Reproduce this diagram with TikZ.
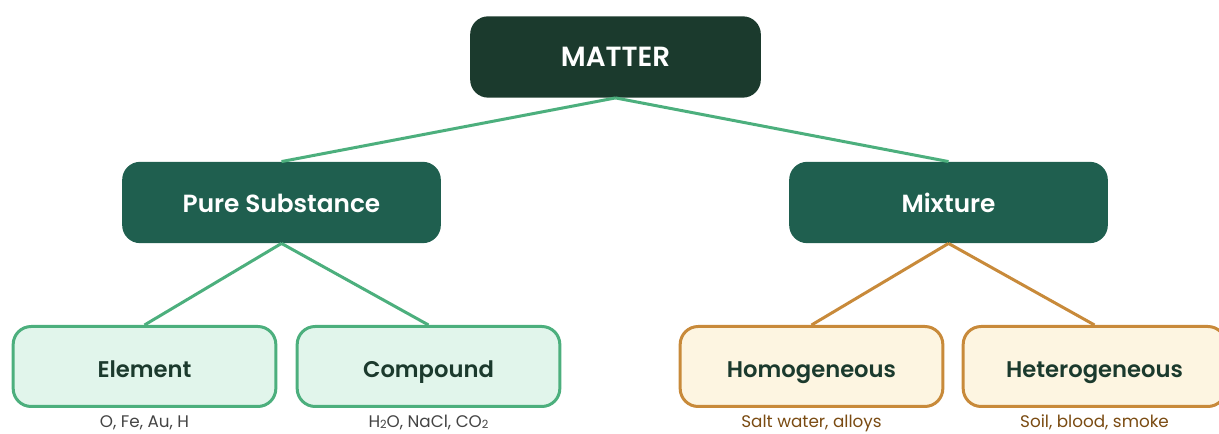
\documentclass[tikz,border=0pt]{standalone}
\usepackage{fontspec}
\setmainfont{Poppins}[BoldFont={Poppins SemiBold}]
\usepackage{xcolor}
\definecolor{matterdark}{HTML}{1B3A2D}
\definecolor{classgreen}{HTML}{1F5F4F}
\definecolor{linkgreen}{HTML}{4CAF7D}
\definecolor{purefill}{HTML}{E1F5EB}
\definecolor{mixfill}{HTML}{FDF5E1}
\definecolor{mixline}{HTML}{C88A3A}
\definecolor{mixnote}{HTML}{7A4B12}
\definecolor{purenote}{HTML}{444444}
\usetikzlibrary{positioning}
\newcommand\chemsub[1]{\raisebox{-0.6pt}{\fontsize{8.5}{9}\selectfont #1}}

\begin{document}
\begin{tikzpicture}[
  x=0.75pt, y=0.75pt,
  top/.style={fill=matterdark, rounded corners=13.5pt, text=white,
              font=\bfseries\fontsize{20.8}{24}\selectfont,
              text height=15pt, text depth=0pt,
              minimum width=218pt, minimum height=61pt},
  kind/.style={fill=classgreen, rounded corners=13.5pt, text=white,
               font=\bfseries\fontsize{18.6}{21}\selectfont,
               text height=15pt, text depth=0pt,
               minimum width=239pt, minimum height=61pt},
  leaf/.style={draw, line width=2.25pt, rounded corners=13.5pt,
               text=matterdark, font=\bfseries\fontsize{17}{20}\selectfont,
               text height=17pt, text depth=0pt,
               minimum width=197pt, minimum height=60pt},
  pureleaf/.style={leaf, draw=linkgreen, fill=purefill},
  mixleaf/.style={leaf, draw=mixline, fill=mixfill},
  note/.style={inner sep=0pt, font=\fontsize{12.6}{15}\selectfont,
               text height=9.2pt, text depth=0pt},
  link/.style={line width=2.25pt}
]
\useasboundingbox (0,0) rectangle (1219,434);

\node[top]  (matter) at (615.5,377) {MATTER};
\node[kind] (pure)   at (281.5,231.5) {Pure Substance};
\node[kind] (mix)    at (948.5,231.5) {Mixture};

\node[pureleaf] (elem)   at (144.5,67.5)  {Element};
\node[pureleaf] (comp)   at (428.5,67.5)  {Compound};
\node[mixleaf]  (homo)   at (811.5,67.5)  {Homogeneous};
\node[mixleaf]  (hetero) at (1094.5,67.5) {Heterogeneous};

\node[note, text=purenote, below=5.4pt of elem]   (elemnote)   {O, Fe, Au, H};
\node[note, text=purenote, below=5.4pt of comp]   (compnote)   {H\chemsub{2}O, NaCl, CO\chemsub{2}};
\node[note, text=mixnote,  below=5.4pt of homo]   (homonote)   {Salt water, alloys};
\node[note, text=mixnote,  below=5.4pt of hetero] (heteronote) {Soil, blood, smoke};

\draw[link, linkgreen] (matter.south) -- (pure.north);
\draw[link, linkgreen] (matter.south) -- (mix.north);
\draw[link, linkgreen] (pure.south) -- (elem.north);
\draw[link, linkgreen] (pure.south) -- (comp.north);
\draw[link, mixline]   (mix.south) -- (homo.north);
\draw[link, mixline]   (mix.south) -- (hetero.north);
\end{tikzpicture}
\end{document}
